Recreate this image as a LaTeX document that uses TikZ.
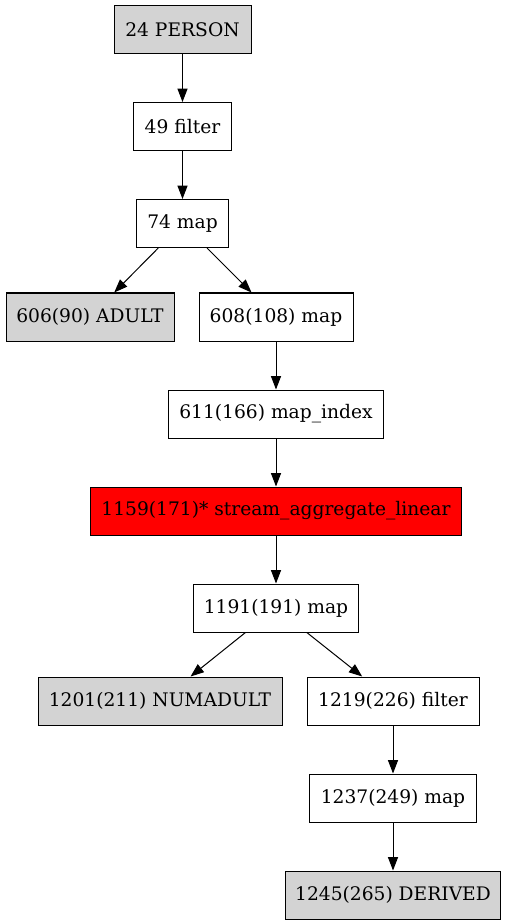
\documentclass[tikz,border=0pt]{standalone}
\usepackage{fontspec}
\setmainfont{DejaVu Serif}
\usepackage{tikz}
\usetikzlibrary{positioning, arrows.meta}
\definecolor{srcgray}{RGB}{211,211,211}
\definecolor{hotred}{RGB}{255,0,0}

\begin{document}
\begin{tikzpicture}[
  x=0.75pt, y=-0.75pt,
  node distance=36pt,
  op/.style={draw=black, fill=white, minimum height=36pt, inner sep=0pt,
             font=\fontsize{14}{16}\selectfont, line width=0.75pt},
  io/.style={op, fill=srcgray},
  hot/.style={op, fill=hotred},
  arr/.style={-{Triangle[length=10pt, width=7.5pt]}, line width=0.75pt, black},
]
  \useasboundingbox (0,0) rectangle (507,923);

  \node[io, minimum width=102.75pt] (person) at (182.5,29.5) {24 PERSON};
  \node[op, minimum width=73.5pt, below=of person] (filter) {49 filter};
  \node[op, minimum width=69pt, below=of filter] (map) {74 map};

  \node[io, minimum width=126pt] (adult) at (90,317) {606(90) ADULT};
  \node[op, minimum width=115.5pt] (mapB) at (276,317) {608(108) map};
  \node[op, minimum width=161.25pt, below=of mapB] (mapidx) {611(166) map\_index};
  \node[hot, minimum width=278.25pt, below=of mapidx] (aggr) {1159(171)* stream\_aggregate\_linear};
  \node[op, minimum width=123.75pt, below=of aggr] (mapC) {1191(191) map};

  \node[io, minimum width=183pt] (numadult) at (160,701) {1201(211) NUMADULT};
  \node[op, minimum width=129pt] (filterB) at (393,701) {1219(226) filter};
  \node[op, minimum width=125.25pt, below=of filterB] (mapD) {1237(249) map};
  \node[io, minimum width=161.25pt, below=of mapD] (derived) {1245(265) DERIVED};

  \draw[arr] (person) -- (filter);
  \draw[arr] (filter) -- (map);
  \draw[arr] (map) -- (adult);
  \draw[arr] (map) -- (mapB);
  \draw[arr] (mapB) -- (mapidx);
  \draw[arr] (mapidx) -- (aggr);
  \draw[arr] (aggr) -- (mapC);
  \draw[arr] (mapC) -- (numadult);
  \draw[arr] (mapC) -- (filterB);
  \draw[arr] (filterB) -- (mapD);
  \draw[arr] (mapD) -- (derived);
\end{tikzpicture}
\end{document}
